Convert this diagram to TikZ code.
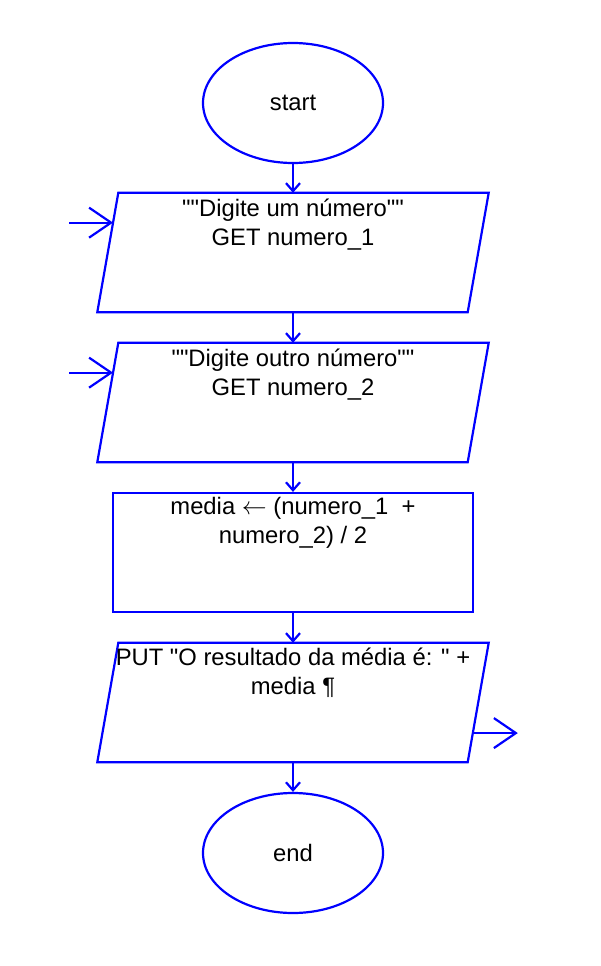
\documentclass[tikz,border=0pt]{standalone}
\usepackage{fontspec}
\setmainfont{Liberation Sans}[Ligatures=TeXOff]
\usetikzlibrary{positioning, arrows.meta, shapes.geometric, calc}

\begin{document}
\begin{tikzpicture}[
  x = 1pt,
  y = -1pt,
  terminal/.style = {
    ellipse,
    draw = blue,
    line width = 2.2pt,
    minimum width = 180pt,
    minimum height = 120pt,
    inner sep = 0pt,
    font = \fontsize{23.8}{28.3}\selectfont
  },
  io/.style = {
    rectangle,
    minimum width = 370pt,
    minimum height = 119pt,
    inner sep = 0pt
  },
  slanted/.style = {
    draw = blue,
    line width = 2.2pt
  },
  process/.style = {
    rectangle,
    draw = blue,
    line width = 2.2pt,
    minimum width = 360pt,
    minimum height = 119pt,
    inner sep = 0pt
  },
  txt/.style = {
    anchor = base,
    align = center,
    inner sep = 0pt,
    font = \fontsize{23.8}{28.3}\selectfont
  },
  flow/.style = {
    -{Straight Barb[length=8pt, width=14pt]},
    blue,
    line width = 2.2pt
  },
  port/.style = {
    -{Straight Barb[length=22pt, width=30pt]},
    blue,
    line width = 2.2pt
  },
  ]
  \useasboundingbox (0, 0) rectangle (600, 966);

  % Start and end.
  \node[terminal] (start) at (293, 103) {start};
  \node[terminal] (stop) at (293, 853) {end};

  % Input and output blocks (parallelograms drawn on their nodes).
  \node[io] (in1) at (293, 252.5) {};
  \node[io] (in2) at (293, 402.5) {};
  \node[io] (out1) at (293, 702.5) {};
  \foreach \name in {in1, in2, out1} {
    \draw[slanted] ([xshift=10.5pt]\name.north west)
      -- ([xshift=10.5pt]\name.north east)
      -- ([xshift=-10.5pt]\name.south east)
      -- ([xshift=-10.5pt]\name.south west) -- cycle;
  }
  \node[txt] (in1-txt) at ([yshift=-52.3pt]in1.north)
    {""Digite um número""\\GET numero\_1};
  \node[txt] (in2-txt) at ([yshift=-52.3pt]in2.north)
    {""Digite outro número""\\GET numero\_2};
  \node[txt] (out1-txt) at ([yshift=-51.3pt]out1.north)
    {PUT "O resultado da média é: " +\\media ¶};

  % Assignment block.
  \node[process] (calc) at (293, 552.5) {};
  \node[txt] (calc-txt) at ([yshift=-51.3pt]calc.north)
    {media $\leftarrow$ (numero\_1\ \ +\\numero\_2) / 2};

  % Flow between blocks.
  \draw[flow] (start) -- (in1);
  \draw[flow] (in1) -- (in2);
  \draw[flow] (in2) -- (calc);
  \draw[flow] (calc) -- (out1);
  \draw[flow] (out1) -- (stop);

  % Ports of the input and output blocks.
  \foreach \name in {in1, in2} {
    \coordinate (\name-port) at
      ($([xshift=10.5pt]\name.north west)!.25!([xshift=-10.5pt]\name.south west)$);
    \coordinate (\name-src) at ($(\name-port) + (-44, 0)$);
    \draw[port] (\name-src) -- (\name-port);
  }
  \coordinate (out1-port) at
    ($([xshift=10.5pt]out1.north east)!.756!([xshift=-10.5pt]out1.south east)$);
  \coordinate (out1-dst) at ($(out1-port) + (45, 0)$);
  \draw[port] (out1-port) -- (out1-dst);
\end{tikzpicture}
\end{document}
